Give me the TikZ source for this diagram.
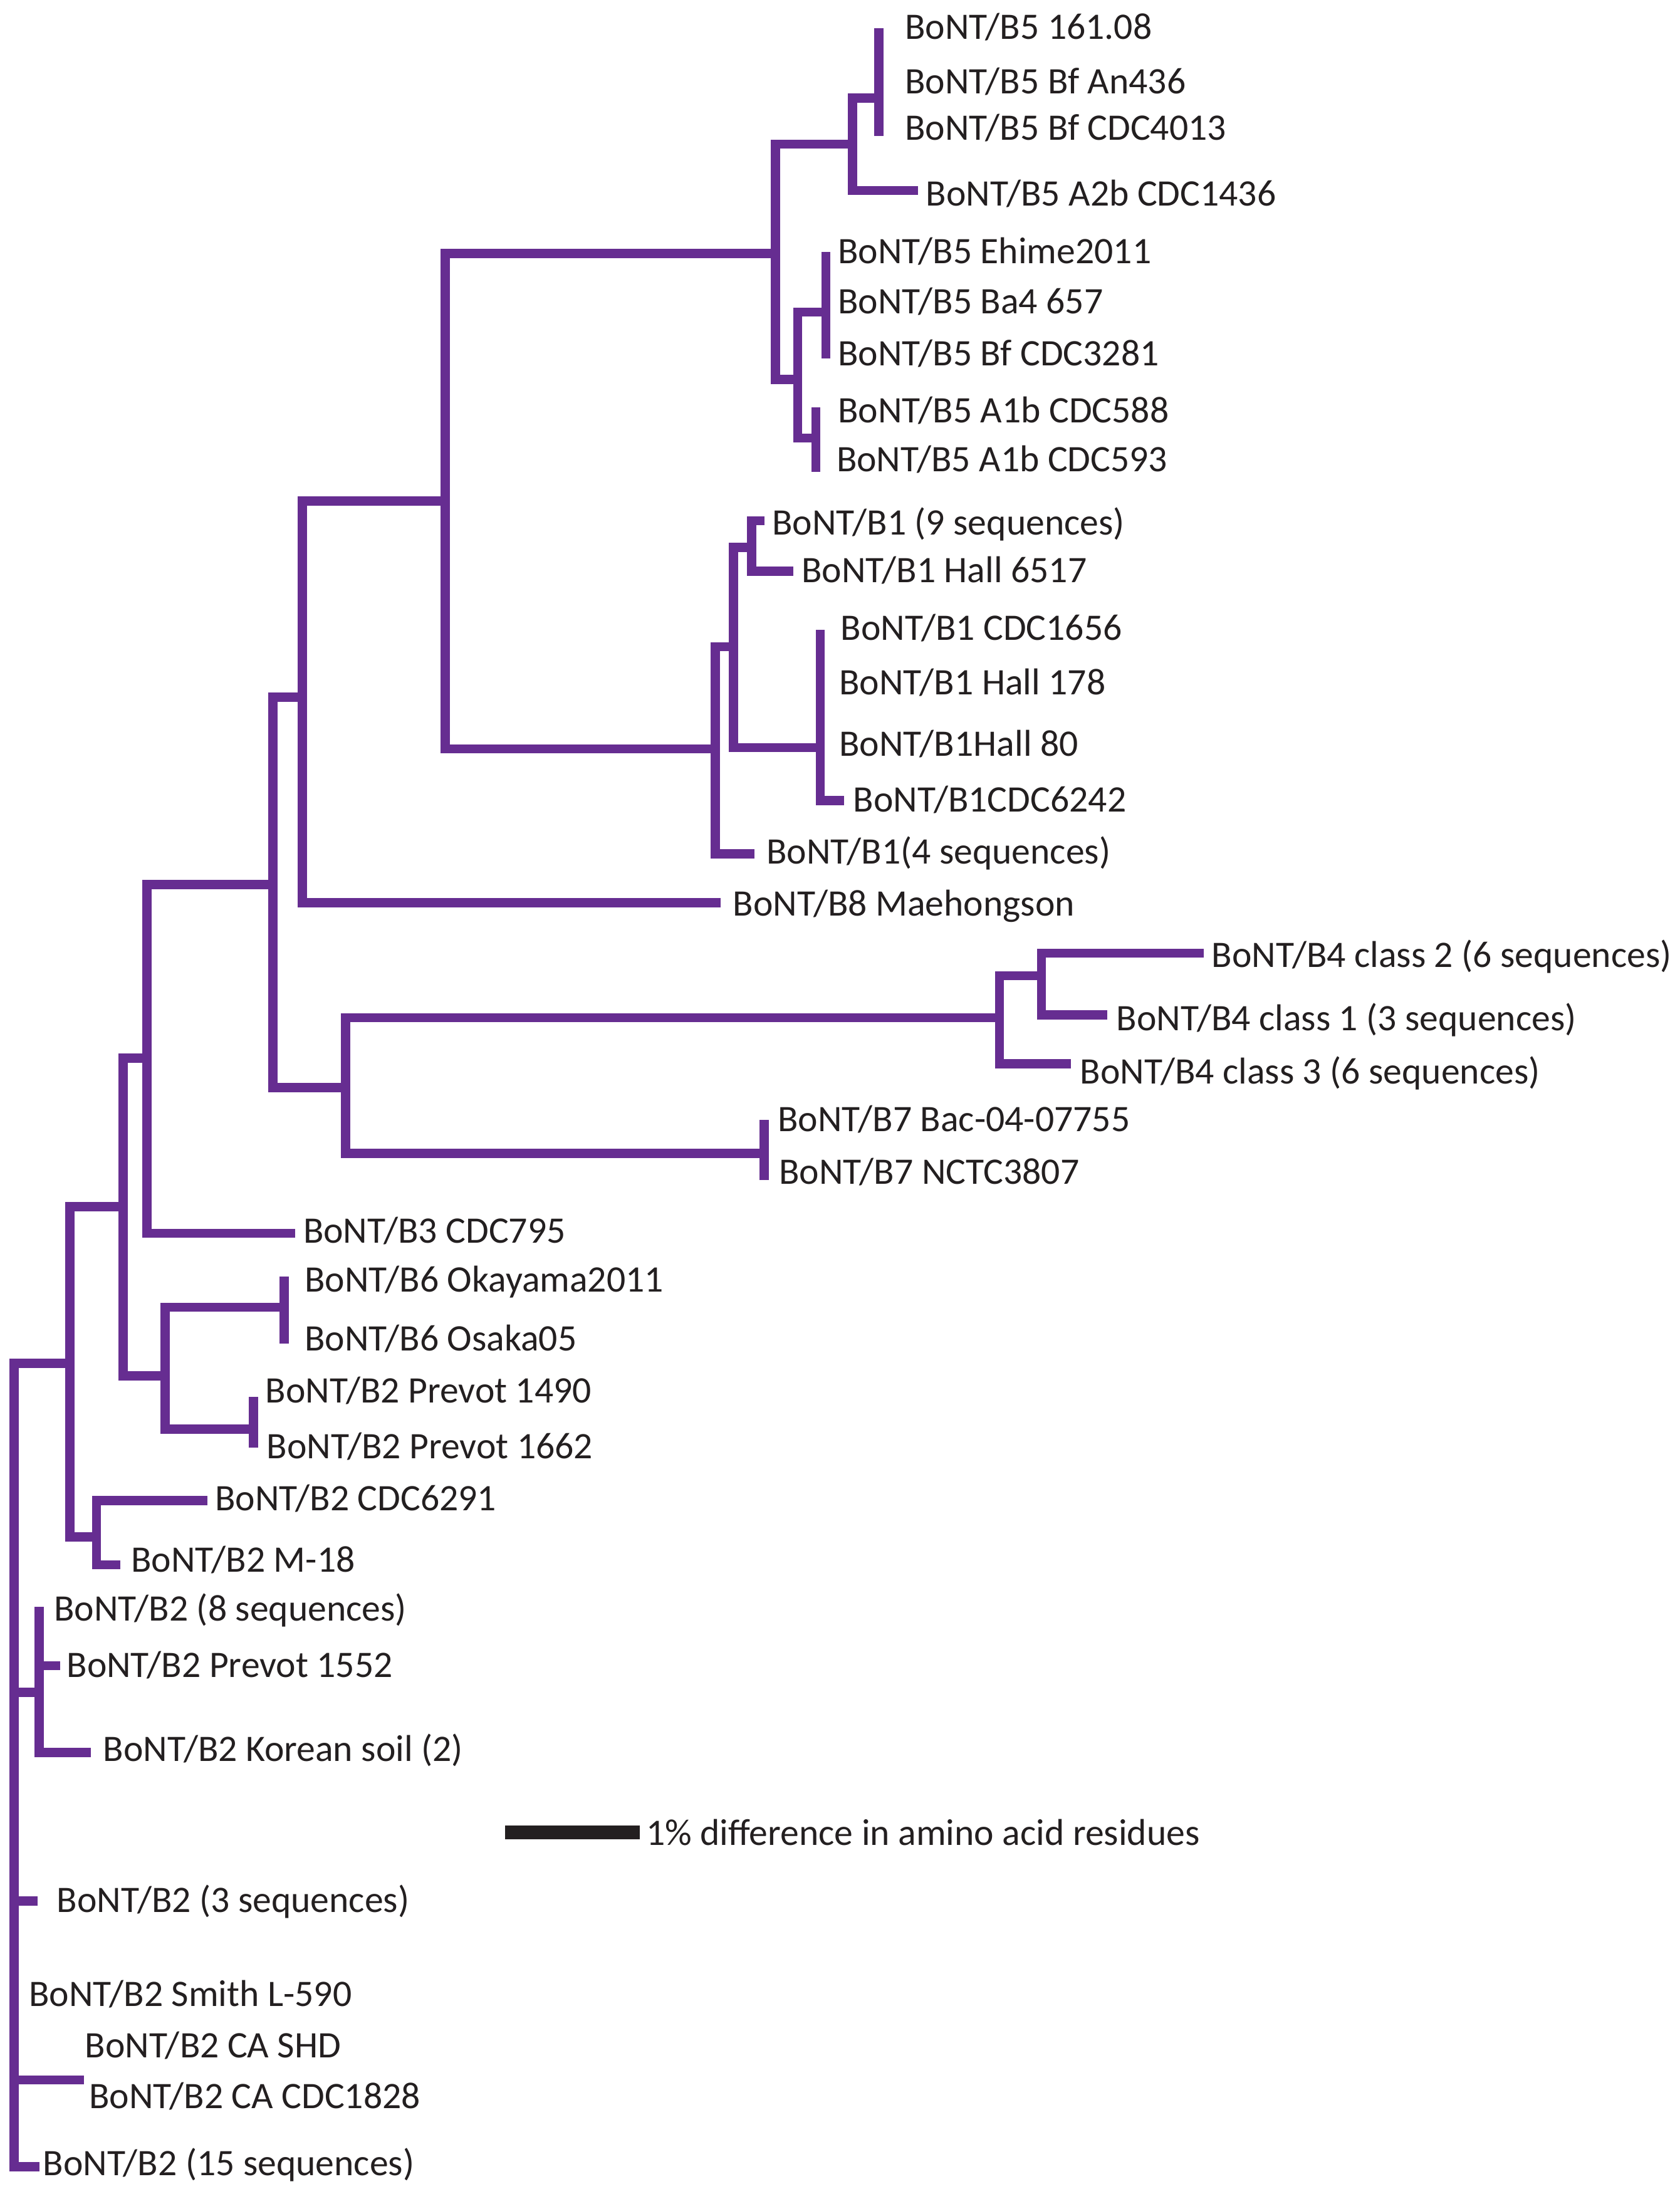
\documentclass[tikz,border=0pt]{standalone}
\usepackage{fontspec}
\setmainfont{Carlito}
\definecolor{treepurple}{RGB}{102,45,145}
\definecolor{labelink}{RGB}{35,31,32}
\begin{document}
\begin{tikzpicture}[x=0.1mm,y=-0.1mm,
	branch/.style={draw=treepurple,line width=0.65mm},
	leaf/.style={anchor=west,inner sep=0pt,text=labelink,font=\fontsize{7.6}{9}\selectfont,text height=4.9pt,text depth=0pt,yshift=-0.15mm},
	scalebar/.style={draw=labelink,line width=1mm}]
	\useasboundingbox (0,0) rectangle (1200,1571);

	\coordinate (R) at (10,974);
	\coordinate (A) at (50,974);
	\coordinate (B) at (88,862);
	\coordinate (C) at (105,756);
	\coordinate (D) at (195,632);
	\coordinate (E) at (216,498);
	\coordinate (F) at (318,358);
	\coordinate (G) at (554,181);
	\coordinate (H) at (609,103);
	\coordinate (I) at (628,70);
	\coordinate (J) at (570,271);
	\coordinate (K) at (590,223);
	\coordinate (L) at (583,313);
	\coordinate (M) at (511,535);
	\coordinate (N) at (524,462);
	\coordinate (O) at (537,391);
	\coordinate (P) at (586,534);
	\coordinate (Q) at (247,777);
	\coordinate (S) at (714,727);
	\coordinate (T) at (744,697);
	\coordinate (U) at (546,824);
	\coordinate (V) at (118,983);
	\coordinate (W) at (203,934);
	\coordinate (X) at (181,1021);
	\coordinate (Y) at (69,1098);
	\coordinate (Z) at (28,1209);

	\coordinate (t1) at (628,20);
	\coordinate (t2) at (628,57);
	\coordinate (t3) at (628,97);
	\coordinate (t4) at (656,136);
	\coordinate (t5) at (590,180);
	\coordinate (t6) at (590,214);
	\coordinate (t7) at (590,256);
	\coordinate (t8) at (583,291);
	\coordinate (t9) at (583,337);
	\coordinate (t10) at (546,372);
	\coordinate (t11) at (567,408);
	\coordinate (t12) at (586,450);
	\coordinate (t13) at (586,486);
	\coordinate (t14) at (586,530);
	\coordinate (t15) at (603,572);
	\coordinate (t16) at (539,610);
	\coordinate (t17) at (515,645);
	\coordinate (t18) at (860,681);
	\coordinate (t19) at (791,725);
	\coordinate (t20) at (765,760);
	\coordinate (t21) at (546,800);
	\coordinate (t22) at (546,843);
	\coordinate (t23) at (211,881);
	\coordinate (t24) at (203,912);
	\coordinate (t25) at (203,960);
	\coordinate (t26) at (181,998);
	\coordinate (t27) at (181,1034);
	\coordinate (t28) at (148,1072);
	\coordinate (t29) at (86,1118);
	\coordinate (t30) at (28,1148);
	\coordinate (t31) at (43,1190);
	\coordinate (t32) at (65,1252);
	\coordinate (t33) at (27,1358);
	\coordinate (t34) at (10,1423);
	\coordinate (tCA) at (60,1486);
	\coordinate (t37) at (28,1548);

	\node (l1)	at (646,18)	[leaf]{BoNT/B5 161.08};
	\node (l2)	at (646,57)	[leaf]{BoNT/B5 Bf An436};
	\node (l3)	at (646,90)	[leaf]{BoNT/B5 Bf CDC4013};
	\node (l4)	at (661,137)	[leaf]{BoNT/B5 A2b CDC1436};
	\node (l5)	at (598,178)	[leaf]{BoNT/B5 Ehime2011};
	\node (l6)	at (598,214)	[leaf]{BoNT/B5 Ba4 657};
	\node (l7)	at (598,251)	[leaf]{BoNT/B5 Bf CDC3281};
	\node (l8)	at (598,292)	[leaf]{BoNT/B5 A1b CDC588};
	\node (l9)	at (597,327)	[leaf]{BoNT/B5 A1b CDC593};
	\node (l10)	at (551,372)	[leaf]{BoNT/B1 (9 sequences)};
	\node (l11)	at (572,406)	[leaf]{BoNT/B1 Hall 6517};
	\node (l12)	at (600,447)	[leaf]{BoNT/B1 CDC1656};
	\node (l13)	at (599,486)	[leaf]{BoNT/B1 Hall 178};
	\node (l14)	at (599,530)	[leaf]{BoNT/B1Hall 80};
	\node (l15)	at (609,570)	[leaf]{BoNT/B1CDC6242};
	\node (l16)	at (547,607)	[leaf]{BoNT/B1(4 sequences)};
	\node (l17)	at (523,644)	[leaf]{BoNT/B8 Maehongson};
	\node (l18)	at (865,681)	[leaf]{BoNT/B4 class 2 (6 sequences)};
	\node (l19)	at (797,726)	[leaf]{BoNT/B4 class 1 (3 sequences)};
	\node (l20)	at (771,764)	[leaf]{BoNT/B4 class 3 (6 sequences)};
	\node (l21)	at (555,798)	[leaf]{BoNT/B7 Bac-04-07755};
	\node (l22)	at (556,836)	[leaf]{BoNT/B7 NCTC3807};
	\node (l23)	at (216,878)	[leaf]{BoNT/B3 CDC795};
	\node (l24)	at (217,913)	[leaf]{BoNT/B6 Okayama2011};
	\node (l25)	at (217,955)	[leaf]{BoNT/B6 Osaka05};
	\node (l26)	at (189,992)	[leaf]{BoNT/B2 Prevot 1490};
	\node (l27)	at (190,1032)	[leaf]{BoNT/B2 Prevot 1662};
	\node (l28)	at (153,1069)	[leaf]{BoNT/B2 CDC6291};
	\node (l29)	at (93,1113)	[leaf]{BoNT/B2 M-18};
	\node (l30)	at (38,1148)	[leaf]{BoNT/B2 (8 sequences)};
	\node (l31)	at (47,1188)	[leaf]{BoNT/B2 Prevot 1552};
	\node (l32)	at (73,1248)	[leaf]{BoNT/B2 Korean soil (2)};
	\node (l33)	at (40,1356)	[leaf]{BoNT/B2 (3 sequences)};
	\node (l34)	at (20,1423)	[leaf]{BoNT/B2 Smith L-590};
	\node (l35)	at (60,1460)	[leaf]{BoNT/B2 CA SHD};
	\node (l36)	at (63,1496)	[leaf]{BoNT/B2 CA CDC1828};
	\node (l37)	at (30,1544)	[leaf]{BoNT/B2 (15 sequences)};

	\draw[branch] (A) -- (R) |- (t37);
	\draw[branch] (R) |- (Z);
	\draw[branch] (R) |- (t33);
	\draw[branch] (R) -- (t34);
	\draw[branch] (R) |- (tCA);
	\draw[branch] (Z) -- (t30);
	\draw[branch] (Z) |- (t31);
	\draw[branch] (Z) |- (t32);
	\draw[branch] (A) |- (B);
	\draw[branch] (A) |- (Y);
	\draw[branch] (Y) |- (t28);
	\draw[branch] (Y) |- (t29);
	\draw[branch] (B) |- (C);
	\draw[branch] (B) |- (V);
	\draw[branch] (V) |- (W);
	\draw[branch] (V) |- (X);
	\draw[branch] (W) -- (t24);
	\draw[branch] (W) -- (t25);
	\draw[branch] (X) -- (t26);
	\draw[branch] (X) -- (t27);
	\draw[branch] (C) |- (D);
	\draw[branch] (C) |- (t23);
	\draw[branch] (D) |- (E);
	\draw[branch] (D) |- (Q);
	\draw[branch] (Q) |- (S);
	\draw[branch] (Q) |- (U);
	\draw[branch] (U) -- (t21);
	\draw[branch] (U) -- (t22);
	\draw[branch] (S) |- (T);
	\draw[branch] (S) |- (t20);
	\draw[branch] (T) |- (t18);
	\draw[branch] (T) |- (t19);
	\draw[branch] (E) |- (F);
	\draw[branch] (E) |- (t17);
	\draw[branch] (F) |- (G);
	\draw[branch] (F) |- (M);
	\draw[branch] (M) |- (N);
	\draw[branch] (M) |- (t16);
	\draw[branch] (N) |- (O);
	\draw[branch] (N) |- (P);
	\draw[branch] (O) |- (t10);
	\draw[branch] (O) |- (t11);
	\draw[branch] (P) -- (t12);
	\draw[branch] (P) -- (t13);
	\draw[branch] (P) -- (t14);
	\draw[branch] (P) |- (t15);
	\draw[branch] (G) |- (H);
	\draw[branch] (G) |- (J);
	\draw[branch] (H) |- (I);
	\draw[branch] (H) |- (t4);
	\draw[branch] (I) -- (t1);
	\draw[branch] (I) -- (t2);
	\draw[branch] (I) -- (t3);
	\draw[branch] (J) |- (K);
	\draw[branch] (J) |- (L);
	\draw[branch] (K) -- (t5);
	\draw[branch] (K) -- (t6);
	\draw[branch] (K) -- (t7);
	\draw[branch] (L) -- (t8);
	\draw[branch] (L) -- (t9);

	\coordinate (sb1) at (361,1309);
	\coordinate (sb2) at (457,1309);
	\draw[scalebar] (sb1) -- (sb2);
	\node (sbtext) at (461,1308) [leaf]{1\% difference in amino acid residues};

\end{tikzpicture}
\end{document}
